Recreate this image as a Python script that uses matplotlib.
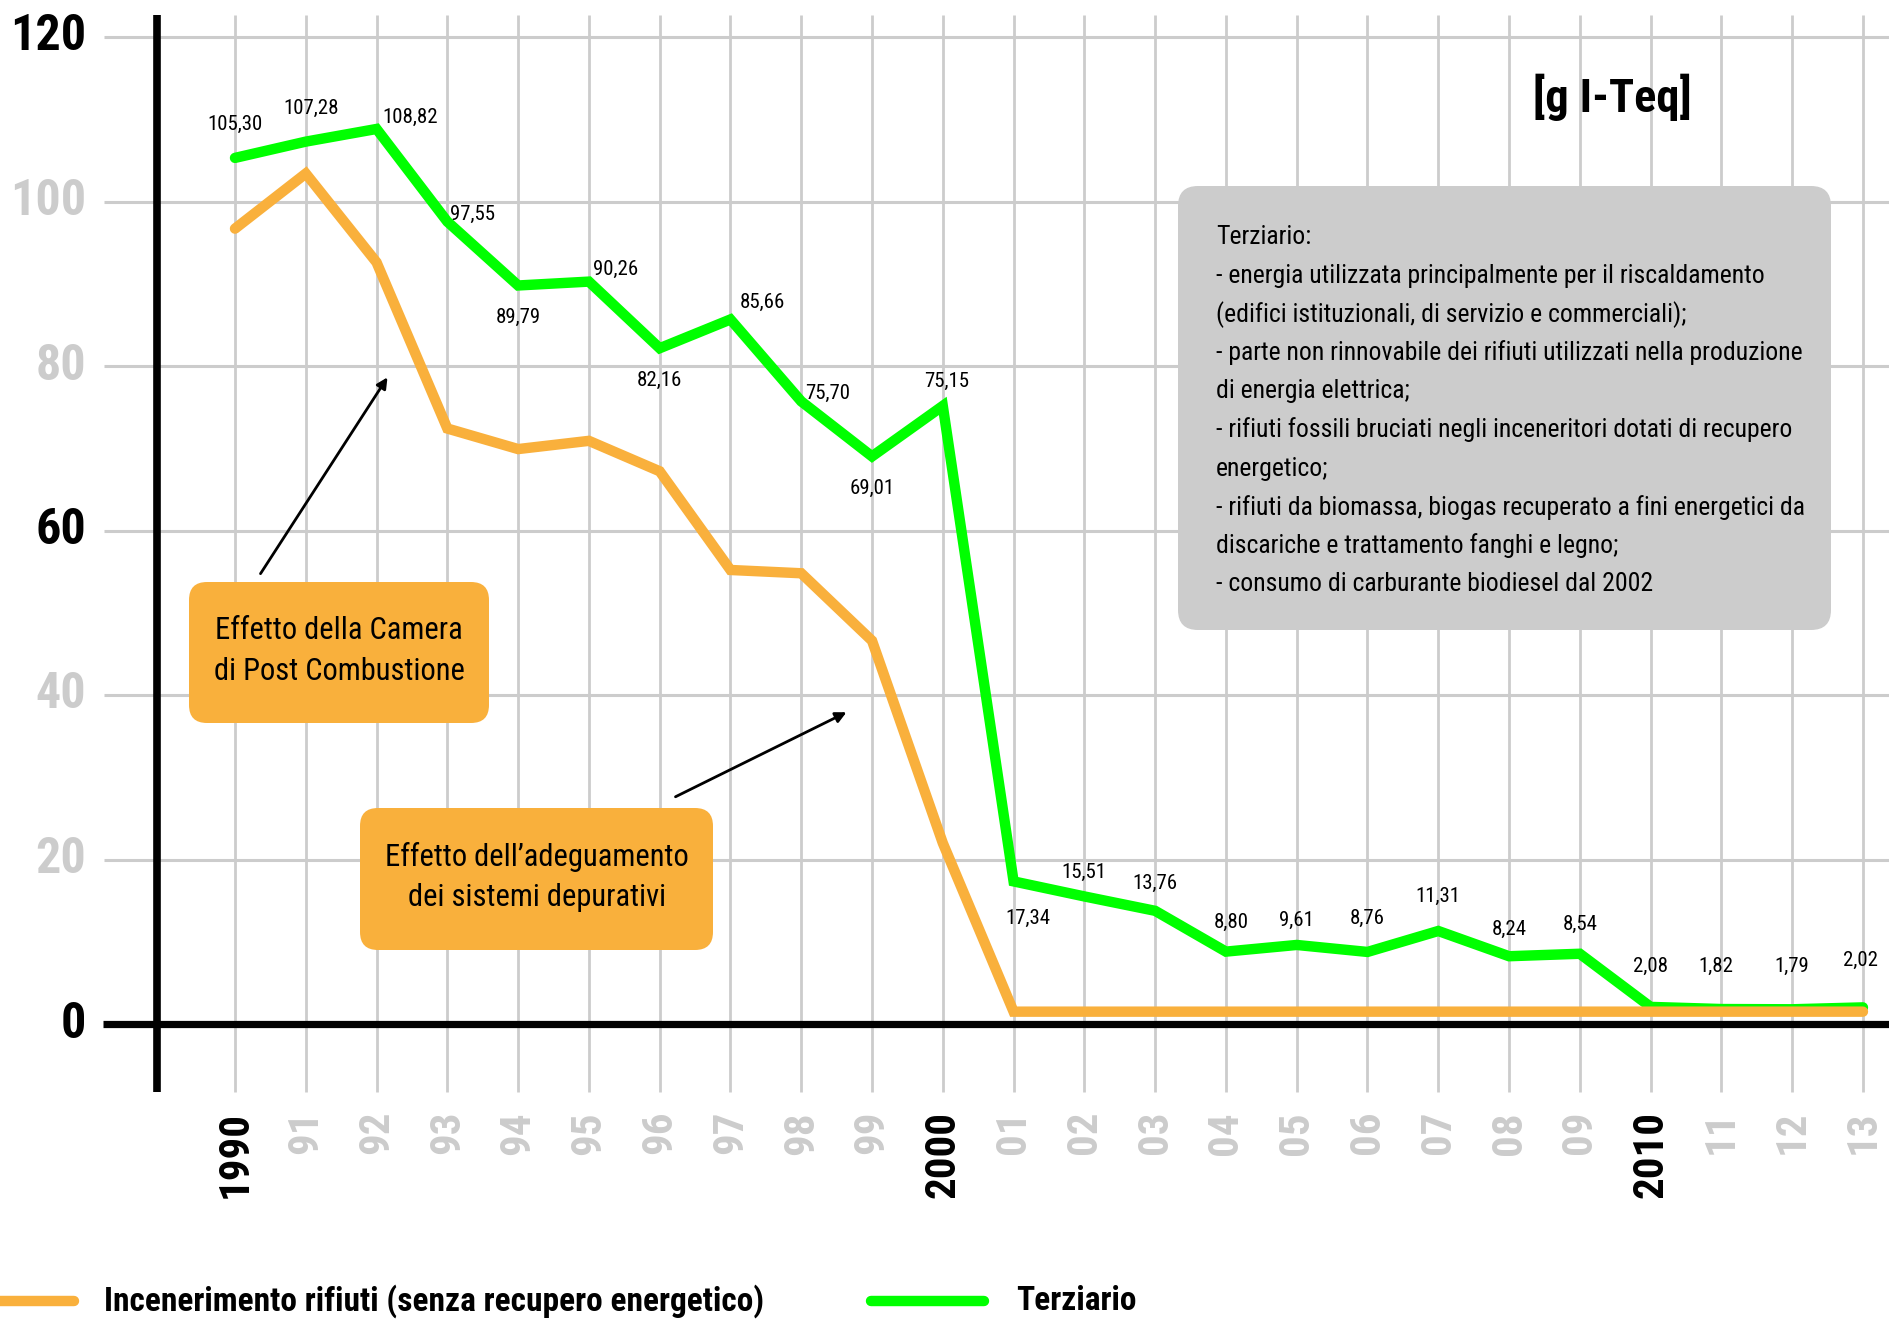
import matplotlib
matplotlib.use("Agg")
import matplotlib.pyplot as plt
from matplotlib.patches import FancyBboxPatch
from matplotlib import font_manager as fm

# ---------------- data ----------------
years = ["1990", "91", "92", "93", "94", "95", "96", "97", "98", "99", "2000",
         "01", "02", "03", "04", "05", "06", "07", "08", "09", "2010", "11", "12", "13"]
incenerimento = [96.7, 103.4, 92.6, 72.4, 69.9, 70.9, 67.2, 55.2, 54.8, 46.6, 22.0,
                 1.5, 1.5, 1.5, 1.5, 1.5, 1.5, 1.5, 1.5, 1.5, 1.5, 1.5, 1.5, 1.5]
terziario = [105.30, 107.28, 108.82, 97.55, 89.79, 90.26, 82.16, 85.66, 75.70, 69.01, 75.15,
             17.34, 15.51, 13.76, 8.80, 9.61, 8.76, 11.31, 8.24, 8.54, 2.08, 1.82, 1.79, 2.02]
yticks = [0, 20, 40, 60, 80, 100, 120]
series_names = ["Incenerimento rifiuti (senza recupero energetico)", "Terziario"]
note_lines = ["Terziario:",
              "- energia utilizzata principalmente per il riscaldamento",
              "(edifici istituzionali, di servizio e commerciali);",
              "- parte non rinnovabile dei rifiuti utilizzati nella produzione",
              "di energia elettrica;",
              "- rifiuti fossili bruciati negli inceneritori dotati di recupero",
              "energetico;",
              "- rifiuti da biomassa, biogas recuperato a fini energetici da",
              "discariche e trattamento fanghi e legno;",
              "- consumo di carburante biodiesel dal 2002"]
unit_label = "[g I-Teq]"
box1_text = "Effetto della Camera\ndi Post Combustione"
box2_text = "Effetto dell\u2019adeguamento\ndei sistemi depurativi"

# ---------------- style ----------------
ORANGE = "#F9B03C"
GREEN = "#00FF00"
GRID = "#CCCCCC"
GRAYTXT = "#CCCCCC"
BOXGRAY = "#CCCCCC"

avail = {f.name for f in fm.fontManager.ttflist}
cond = None
for cand in ["Liberation Sans Narrow", "DejaVu Sans Condensed", "Roboto Condensed", "Open Sans Condensed"]:
    if cand in avail:
        cond = cand
        break
FAM = [cond, "DejaVu Sans"] if cond else ["DejaVu Sans"]
plt.rcParams["font.family"] = FAM

W, H = 1889, 1319
fig = plt.figure(figsize=(W / 100, H / 100), dpi=100)
fig.patch.set_facecolor("white")

# main axes mapped so that year index i -> pixel 235 + 70.78*i ; value v -> pixel 1024 - 8.225*v
x0px, dxpx, y0px, dypx = 235.0, 70.78, 1024.0, 8.225
ax = fig.add_axes([0, 0, 1, 1])
ax.set_xlim(-x0px / dxpx, (W - x0px) / dxpx)
ax.set_ylim(-(H - y0px) / dypx, y0px / dypx)
ax.axis("off")

def px2x(p):
    return (p - x0px) / dxpx

def py2y(p):
    return (y0px - p) / dypx

n = len(years)
xi = list(range(n))
ytop, ybot = py2y(15), py2y(1092)

# grid
for i in xi:
    ax.plot([i, i], [ybot, ytop], color=GRID, lw=2.0, zorder=1, solid_capstyle="butt")
for v in yticks[1:]:
    ax.plot([px2x(104), px2x(W + 5)], [v, v], color=GRID, lw=2.2, zorder=1, solid_capstyle="butt")

# axes lines
ax.plot([px2x(157), px2x(157)], [ybot, ytop], color="black", lw=5.5, zorder=2, solid_capstyle="butt")
ax.plot([px2x(103), px2x(W + 5)], [0, 0], color="black", lw=5.2, zorder=2, solid_capstyle="butt")

# y tick labels
for v in yticks:
    col = "black" if v % 60 == 0 else GRAYTXT
    ax.text(px2x(86), v, str(v), ha="right", va="center", fontsize=36, fontweight="bold",
            color=col, zorder=3)

# x tick labels
for i, lab in enumerate(years):
    col = "black" if len(lab) == 4 else GRAYTXT
    ax.text(i, py2y(1111), lab, rotation=90, ha="center", va="top", fontsize=31,
            fontweight="bold", color=col, zorder=3)

# series
ax.plot(xi, terziario, color=GREEN, lw=7.5, zorder=4, solid_joinstyle="miter", solid_capstyle="round")
ax.plot(xi, incenerimento, color=ORANGE, lw=7.5, zorder=5, solid_joinstyle="miter", solid_capstyle="round")

# value labels (offsets in points)
offsets = [(0, 24), (4, 24), (24, 8), (18, 5), (0, -23), (19, 9), (0, -23), (23, 12),
           (19, 6), (0, -23), (3, 18), (10, -27), (0, 17), (0, 20), (4, 21), (0, 18),
           (0, 24), (0, 25), (0, 19), (0, 21), (0, 29), (-4, 31), (0, 31), (-2, 34)]
for i, (v, off) in enumerate(zip(terziario, offsets)):
    ax.annotate(f"{v:.2f}".replace(".", ","), (i, v), xytext=off, textcoords="offset points",
                ha="center", va="center", fontsize=15, color="black", zorder=6)

# arrows
ax.annotate("", xy=(px2x(389), py2y(375)), xytext=(px2x(259), py2y(576)),
            arrowprops=dict(arrowstyle="-|>", color="black", lw=2, mutation_scale=16), zorder=6)
ax.annotate("", xy=(px2x(849), py2y(711)), xytext=(px2x(673), py2y(798)),
            arrowprops=dict(arrowstyle="-|>", color="black", lw=2, mutation_scale=16), zorder=6)

# overlay in pixel coordinates for boxes, notes, legend
ov = fig.add_axes([0, 0, 1, 1])
ov.set_xlim(0, W)
ov.set_ylim(H, 0)
ov.axis("off")
ov.patch.set_alpha(0)

def rbox(x1, y1, x2, y2, color, r):
    p = FancyBboxPatch((x1 + r, y1 + r), (x2 - x1) - 2 * r, (y2 - y1) - 2 * r,
                       boxstyle=f"round,pad={r},rounding_size={r}", fc=color, ec="none", zorder=7)
    ov.add_patch(p)

rbox(1178, 186, 1831, 630, BOXGRAY, 20)
for k, line in enumerate(note_lines):
    ov.text(1216, 237 + k * 38.6, line, ha="left", va="center", fontsize=18.5, color="black", zorder=8)

rbox(189, 582, 489, 723, ORANGE, 18)
ov.text(339, 651, box1_text, ha="center", va="center", fontsize=22, color="black",
        linespacing=1.5, zorder=8)
rbox(360, 808, 713, 950, ORANGE, 18)
ov.text(537, 877, box2_text, ha="center", va="center", fontsize=22, color="black",
        linespacing=1.5, zorder=8)

ov.text(1612, 97, unit_label, ha="center", va="center", fontsize=33.5, fontweight="bold",
        color="black", zorder=8)

# legend
ov.plot([-10, 74], [1301, 1301], color=ORANGE, lw=7.5, solid_capstyle="round", zorder=8)
ov.text(104, 1301, series_names[0], ha="left", va="center", fontsize=24, fontweight="bold", zorder=8)
ov.plot([871, 984], [1301, 1301], color=GREEN, lw=7.5, solid_capstyle="round", zorder=8)
ov.text(1016, 1301, series_names[1], ha="left", va="center", fontsize=24, fontweight="bold", zorder=8)

fig.savefig("out.png", dpi=100, facecolor="white")
